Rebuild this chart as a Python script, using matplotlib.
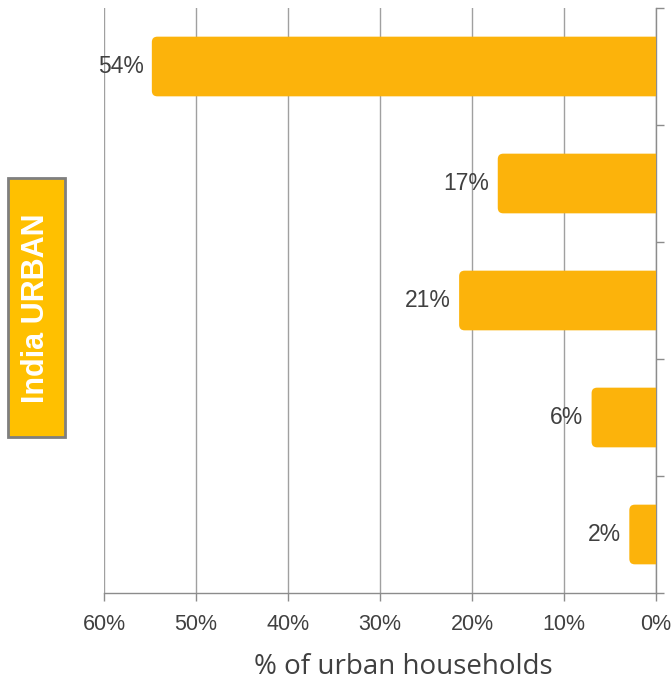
import matplotlib
matplotlib.use("Agg")
import matplotlib.pyplot as plt
from matplotlib.patches import FancyBboxPatch, Rectangle

# data (share of urban households)
categories = ["A", "B", "C", "D", "E"]
values = [54.8, 17.2, 21.4, 7.0, 2.9]
value_labels = ["54%", "17%", "21%", "6%", "2%"]
xticks = [60, 50, 40, 30, 20, 10, 0]
xtick_labels = ["60%", "50%", "40%", "30%", "20%", "10%", "0%"]

bar_color = "#FCB30B"
box_color = "#FFC000"
grid_color = "#A0A0A0"
text_color = "#404040"

plt.rcParams["font.family"] = ["Liberation Sans", "DejaVu Sans"]

fig = plt.figure(figsize=(6.71, 6.82), dpi=100)
ax = fig.add_axes([104 / 671, 89 / 682, 552 / 671, 585 / 682])

pos = list(range(len(categories)))
bars = ax.barh(pos, values, height=0.51, color=bar_color)

ax.set_xlim(60, 0)
ax.set_ylim(len(categories) - 0.5, -0.5)

# swap plain bars for ones with rounded corners (right side hidden behind axis)
fig.canvas.draw()
px_per_x = abs(ax.transData.transform((1, 0))[0] - ax.transData.transform((0, 0))[0])
px_per_y = abs(ax.transData.transform((0, 1))[1] - ax.transData.transform((0, 0))[1])
r = 5.5 / px_per_x
for b in bars:
    b.set_visible(False)
    x0, y0 = b.get_x(), b.get_y()
    w, h = b.get_width(), b.get_height()
    p = FancyBboxPatch((x0 - 2, y0), w + 2, h,
                       boxstyle="round,pad=0,rounding_size=%f" % r,
                       mutation_aspect=px_per_x / px_per_y,
                       facecolor=bar_color, edgecolor="none", zorder=3)
    ax.add_patch(p)

for v, lab, y in zip(values, value_labels, pos):
    ax.text(v + 0.9, y, lab, ha="right", va="center", fontsize=16.5,
            color=text_color, zorder=4)

ax.set_xticks(xticks)
ax.set_xticklabels(xtick_labels, fontsize=15.5, color=text_color)
ax.xaxis.grid(True, color=grid_color, linewidth=1)
ax.set_axisbelow(True)

ax.yaxis.tick_right()
ax.set_yticks([i - 0.5 for i in range(len(categories) + 1)])
ax.set_yticklabels([])
ax.tick_params(axis="y", length=6, color="#8C8C8C", width=1)
ax.tick_params(axis="x", length=6, color="#8C8C8C", width=1, pad=9)

for s in ["left", "top"]:
    ax.spines[s].set_visible(False)
for s in ["right", "bottom"]:
    ax.spines[s].set_color("#8C8C8C")
    ax.spines[s].set_linewidth(1)

ax.set_xlabel("% of urban households", fontsize=20, color=text_color,
              family=["Open Sans", "DejaVu Sans"])
ax.xaxis.set_label_coords((403 - 104) / 552, -60 / 585)

# label box on the left
box = Rectangle((8 / 671, (682 - 437) / 682), 57 / 671, 259 / 682,
                transform=fig.transFigure, facecolor=box_color,
                edgecolor="#7F7F7F", linewidth=2)
fig.patches.append(box)
fig.text(36.5 / 671, (682 - 308) / 682, "India URBAN", rotation=90,
         ha="center", va="center", color="white", fontsize=22,
         fontweight="bold")

fig.savefig("out.png", dpi=100)
